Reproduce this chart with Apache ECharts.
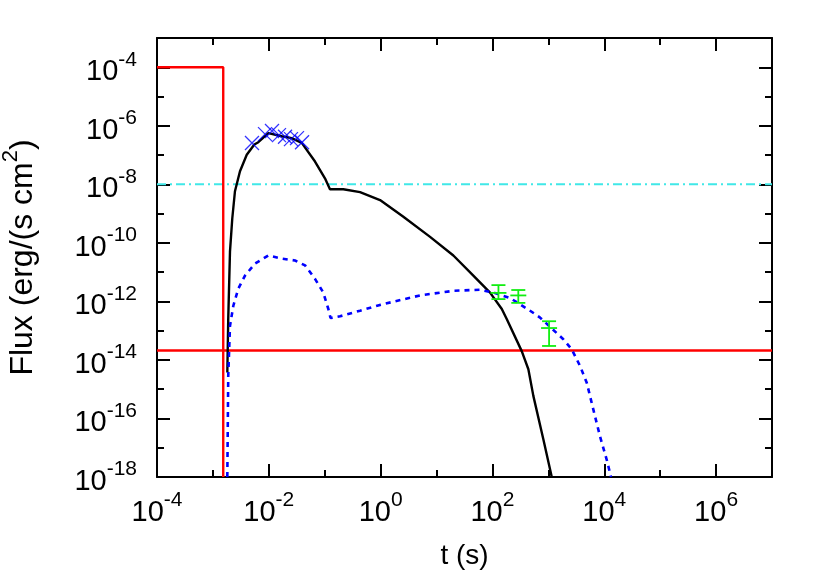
<!DOCTYPE html>
<html><head><meta charset="utf-8">
<script src="https://cdn.jsdelivr.net/npm/echarts@6/dist/echarts.min.js"></script>
<style>html,body{margin:0;padding:0;background:#fff}#c{width:830px;height:581px}</style>
</head><body><div id="c"></div>
<script>
// ---- data (t in s, flux in erg/(s cm^2)) ----
const blackT = [1.81e-3,1.88e-3,2.02e-3,2.22e-3,2.48e-3,3.05e-3,4.03e-3,5.51e-3,6.49e-3,9.8e-3,1.70e-2,2.57e-2,3.88e-2,6.70e-2,0.101,0.124,0.215,0.428,0.975,2.55,7.66,20.0,45.5,90.6,147,180,334,439,540,815,1150];
const blackF = [3.7e-15,2.5e-13,5.0e-11,6.8e-10,5.8e-9,2.8e-8,1.02e-7,2.3e-7,2.75e-7,5.6e-7,4.4e-7,3.8e-7,2.6e-7,6.0e-8,1.6e-8,6.8e-9,6.8e-9,5.4e-9,2.9e-9,7.8e-10,1.6e-10,3.7e-11,7.6e-12,2.0e-12,5.5e-13,2.5e-13,2.0e-14,4.8e-15,5.8e-16,1.9e-17,1e-18];
const blueT = [1.81e-3,1.88e-3,2.02e-3,2.32e-3,2.84e-3,3.75e-3,5.66e-3,9.8e-3,1.70e-2,2.94e-2,4.45e-2,6.70e-2,9.44e-2,0.116,0.127,0.188,0.428,0.975,5.07,20.0,60.0,104,207,471,711,1850,2620,3690,4860,6380,8410,11100,13200];
const blueF = [1e-18,2.8e-15,1.45e-13,7.1e-13,2.7e-12,7.6e-12,1.95e-11,3.7e-11,2.9e-11,2.5e-11,1.7e-11,5.9e-12,2.0e-12,5.5e-13,2.7e-13,3.1e-13,4.8e-13,7.6e-13,1.6e-12,2.3e-12,2.5e-12,2.0e-12,1.3e-12,4.8e-13,2.8e-13,5.1e-14,2.3e-14,6.2e-15,1.66e-15,2.0e-16,2.4e-17,3.8e-18,1e-18];
const redStepT = [1e-4,1.53e-3,1.53e-3];
const redStepF = [1e-4,1e-4,1e-18];
const redFlatT = [1e-4,1e7];
const redFlatF = [2.1e-14,2.1e-14];
const cyanT = [1e-4,1e7];
const cyanF = [1e-8,1e-8];
const crossT = [5.0e-3,8.55e-3,1.14e-2,1.52e-2,1.95e-2,2.49e-2,3.19e-2,3.93e-2];
const crossF = [2.6e-7,5.2e-7,6.6e-7,4.8e-7,4.2e-7,3.5e-7,3.8e-7,2.75e-7];
const greenT = [128,290,1030];
const greenF = [1.95e-12,1.6e-12,1.23e-13];
const greenLo = [1.2e-12,8.9e-13,3.0e-14];
const greenHi = [3.6e-12,2.45e-12,2.1e-13];
const xRangeExp = [-4,7];   // axis range, powers of ten
const yRangeExp = [-18,-3];

// ---- build ----
const L = Math.log10;
const pts = (T,F) => T.map((t,i)=>[L(t),L(F[i])]);
const FONT = '"Liberation Sans", Arial, Helvetica, sans-serif';
const rich = {
  b:{fontSize:29,fontFamily:FONT,color:'#000',lineHeight:46},
  s:{fontSize:21,fontFamily:FONT,color:'#000',verticalAlign:'top',lineHeight:21}
};
const fmt = v => { const r=Math.round(v); return (r%2!==0)?'':'{b|10}{s|'+r+'}'; };
const lineS = {color:'#000',width:2};
function mkAxis(kind,pos,interval,len,labels,lineShow,range){
  return {
    type:'value', position:pos, min:range[0], max:range[1], interval:interval,
    axisLine:{show:lineShow,onZero:false,lineStyle:lineS},
    axisTick:{show:true,inside:true,length:len,lineStyle:{color:'#000',width:2}},
    axisLabel:labels?{show:true,formatter:fmt,rich:rich,margin:kind==='x'?13:20,
      padding:kind==='x'?0:[10,0,0,0],showMinLabel:true,showMaxLabel:true,hideOverlap:false}:{show:false},
    splitLine:{show:false}, minorTick:{show:false}
  };
}
const xAxes = [
  Object.assign(mkAxis('x','bottom',2,13,true,true,xRangeExp),{
    name:'t (s)',nameLocation:'middle',nameGap:65,
    nameTextStyle:{fontSize:28,fontFamily:FONT,color:'#000'}}),
  mkAxis('x','bottom',1,7,false,false,xRangeExp),
  mkAxis('x','top',2,13,false,true,xRangeExp),
  mkAxis('x','top',1,7,false,false,xRangeExp)
];
const yAxes = [
  Object.assign(mkAxis('y','left',2,13,true,true,yRangeExp),{
    name:'{n|Flux (erg/(s cm}{s|2}{n|)}',nameLocation:'middle',nameGap:111,
    nameTextStyle:{rich:{
      n:{fontSize:32,fontFamily:FONT,color:'#000',lineHeight:46},
      s:{fontSize:22,fontFamily:FONT,color:'#000',verticalAlign:'top',lineHeight:22}}}}),
  mkAxis('y','left',1,7,false,false,yRangeExp),
  mkAxis('y','right',2,13,false,true,yRangeExp),
  mkAxis('y','right',1,7,false,false,yRangeExp)
];
const lineSeries = (name,T,F,color,width,dash,z) => ({
  type:'line',name:name,data:pts(T,F),showSymbol:false,symbol:'none',
  lineStyle:{color:color,width:width,type:dash||'solid'},clip:true,z:z||2,animation:false
});
const option = {
  backgroundColor:'#fff',
  animation:false,
  grid:{left:157,right:58,top:38,bottom:104,containLabel:false,outerBoundsMode:'none'},
  xAxis:xAxes, yAxis:yAxes,
  series:[
    lineSeries('cyan',cyanT,cyanF,'#40e8e8',2,[9,4,2,4],1),
    lineSeries('redStep',redStepT,redStepF,'#ff0000',2.4),
    lineSeries('redFlat',redFlatT,redFlatF,'#ff0000',2.4),
    lineSeries('black',blackT,blackF,'#000000',2.4,null,3),
    lineSeries('blue',blueT,blueF,'#0000ff',2.6,[5,5],3),
    {type:'scatter',data:pts(crossT,crossF),symbol:'path://M0,0L10,10M10,0L0,10',symbolSize:14,
     itemStyle:{color:'rgba(0,0,0,0)',borderColor:'#0000ff',borderWidth:1.3},z:4,animation:false},
    {type:'custom',data:greenT.map((t,i)=>[L(t),L(greenF[i]),L(greenLo[i]),L(greenHi[i])]),z:5,
     renderItem:function(params,api){
       const c=api.coord([api.value(0),api.value(1)]);
       const lo=api.coord([api.value(0),api.value(2)]);
       const hi=api.coord([api.value(0),api.value(3)]);
       const st={stroke:'#11ee11',lineWidth:1.8};
       return {type:'group',children:[
         {type:'line',shape:{x1:c[0],y1:lo[1],x2:c[0],y2:hi[1]},style:st},
         {type:'line',shape:{x1:c[0]-7,y1:lo[1],x2:c[0]+7,y2:lo[1]},style:st},
         {type:'line',shape:{x1:c[0]-7,y1:hi[1],x2:c[0]+7,y2:hi[1]},style:st},
         {type:'line',shape:{x1:c[0]-8,y1:c[1],x2:c[0]+8,y2:c[1]},style:st}
       ]};
     }}
  ]
};
const chart = echarts.init(document.getElementById('c'),null,{renderer:'canvas'});
chart.setOption(option);
</script></body></html>
